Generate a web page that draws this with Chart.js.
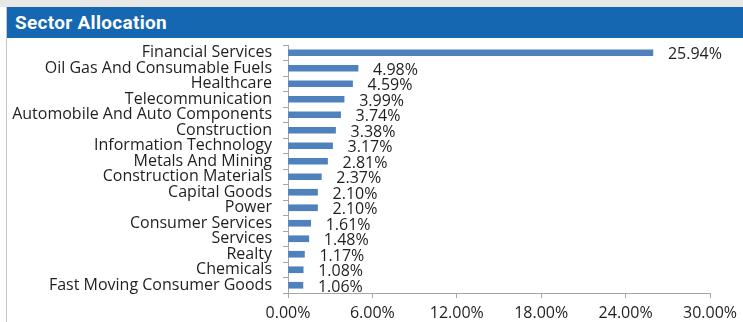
<!DOCTYPE html>
<html>
<head>
<meta charset="utf-8">
<title>Sector Allocation</title>
<script src="https://cdn.jsdelivr.net/npm/chart.js@4/dist/chart.umd.min.js"></script>
<style>
  html, body { margin: 0; padding: 0; background: #fff; }
  body { width: 743px; height: 322px; position: relative; overflow: hidden; }
  .top-strip { position: absolute; left: 0; top: 0; width: 743px; height: 7px; background: #e8e8e8; }
  .card { position: absolute; left: 6px; top: 7px; width: 737px; height: 315px; border-left: 1px solid #c8c8c8; background: #fff; }
  .card-header {
    height: 31px; background: #1667b2; color: #fff;
    font-family: Roboto, "Noto Sans", sans-serif; font-weight: 700; font-size: 19px;
    letter-spacing: 0.3px; line-height: 32px; padding-left: 8px;
  }
  .chart-box { position: absolute; left: 1px; top: 31px; width: 736px; height: 284px; }
</style>
</head>
<body>
<div class="top-strip"></div>
<div class="card">
  <div class="card-header">Sector Allocation</div>
  <div class="chart-box"><canvas id="chart-sector"></canvas></div>
</div>
<script>
const sectores = [
  'Financial Services',
  'Oil Gas And Consumable Fuels',
  'Healthcare',
  'Telecommunication',
  'Automobile And Auto Components',
  'Construction',
  'Information Technology',
  'Metals And Mining',
  'Construction Materials',
  'Capital Goods',
  'Power',
  'Consumer Services',
  'Services',
  'Realty',
  'Chemicals',
  'Fast Moving Consumer Goods'
]

const pesos = [25.94, 4.98, 4.59, 3.99, 3.74, 3.38, 3.17, 2.81, 2.37, 2.10, 2.10, 1.61, 1.48, 1.17, 1.08, 1.06]

const ejeMin = 0
const ejeMax = 30
const ejePaso = 6

const fuente = "'Open Sans', 'Noto Sans', sans-serif"
const colorTexto = '#1f1f1f'
const colorEje = '#a6a6a6'

// etiquetas de porcentaje a la derecha de cada barra
const etiquetasValor = {
  id: 'etiquetasValor',
  afterDatasetsDraw(chart) {
    const { ctx } = chart
    const meta = chart.getDatasetMeta(0)
    ctx.save()
    ctx.font = `16px ${fuente}`
    ctx.fillStyle = colorTexto
    ctx.textAlign = 'left'
    ctx.textBaseline = 'middle'
    meta.data.forEach((bar, i) => {
      ctx.fillText(pesos[i].toFixed(2) + '%', bar.x + 15, bar.y + 2)
    })
    ctx.restore()
  }
}

const ctx = document.getElementById('chart-sector').getContext('2d')

new Chart(ctx, {
  type: 'bar',
  data: {
    labels: sectores,
    datasets: [{
      data: pesos,
      backgroundColor: '#4f81bd',
      barThickness: 6
    }]
  },
  plugins: [etiquetasValor],
  options: {
    indexAxis: 'y',
    responsive: true,
    maintainAspectRatio: false,
    animation: false,
    layout: { padding: { top: 7, right: 34, bottom: 0, left: 0 } },
    plugins: {
      legend: { display: false },
      tooltip: { enabled: false }
    },
    scales: {
      x: {
        min: ejeMin,
        max: ejeMax,
        afterFit(scale) { scale.height = 29 },
        border: { display: true, color: colorEje },
        grid: { drawOnChartArea: false, drawTicks: true, tickLength: 5, color: colorEje },
        ticks: {
          stepSize: ejePaso,
          padding: 6,
          color: colorTexto,
          font: { family: fuente, size: 16 },
          maxRotation: 0,
          callback: v => v.toFixed(2) + '%'
        }
      },
      y: {
        afterFit(scale) {
          scale.width = 280
          scale.paddingTop = 0
          scale.paddingBottom = 0
        },
        border: { display: true, color: colorEje },
        grid: { drawOnChartArea: false, drawTicks: true, tickLength: 5, color: colorEje, offset: true },
        ticks: {
          padding: 11,
          color: colorTexto,
          autoSkip: false,
          font: { family: fuente, size: 16 }
        }
      }
    }
  }
})
</script>
</body>
</html>
